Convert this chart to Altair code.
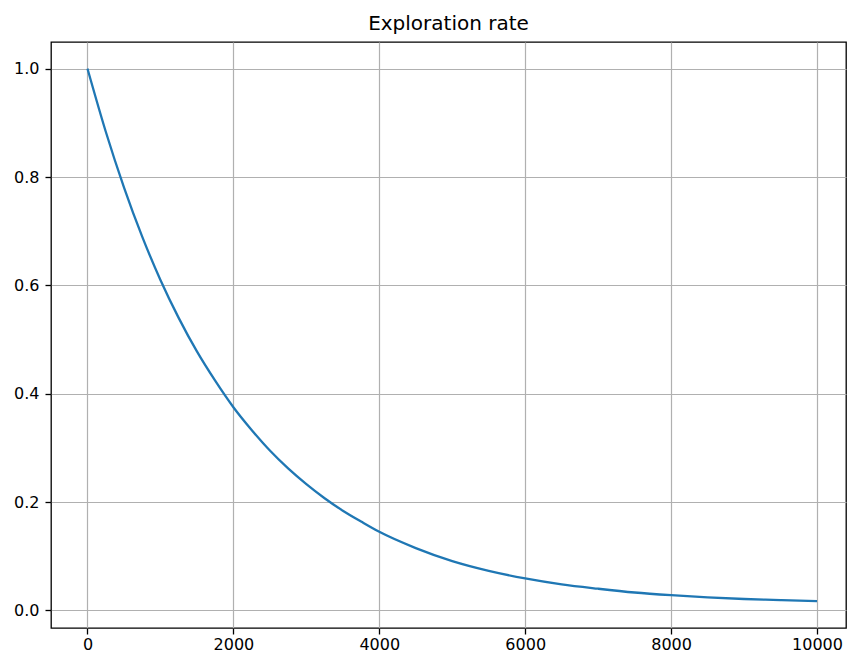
import altair as alt
import pandas as pd

steps = [0, 250, 500, 750, 1000, 1250, 1500, 1750, 2000, 2250, 2500, 2750,
         3000, 3250, 3500, 3750, 4000, 4500, 5000, 5500, 6000, 6500, 7000,
         7500, 8000, 8500, 9000, 9500, 10000]
rate = [1.0, 0.884, 0.781, 0.690, 0.610, 0.540, 0.478, 0.424, 0.375, 0.333,
        0.295, 0.262, 0.233, 0.207, 0.184, 0.164, 0.145, 0.115, 0.091, 0.073,
        0.059, 0.048, 0.040, 0.033, 0.028, 0.024, 0.021, 0.019, 0.017]
x_ticks = [0, 2000, 4000, 6000, 8000, 10000]
y_ticks = [0.0, 0.2, 0.4, 0.6, 0.8, 1.0]

df = pd.DataFrame({"step": steps, "rate": rate})

axis_common = dict(
    domain=False, tickColor="black", tickSize=6, tickWidth=1.3,
    labelColor="black", labelFont="DejaVu Sans", labelFontSize=16,
    gridColor="#b0b0b0", gridWidth=1.2, title=None,
)

chart = alt.Chart(df).mark_line(color="#1f77b4", strokeWidth=2.3, clip=True,
                                interpolate="monotone").encode(
    x=alt.X("step:Q", scale=alt.Scale(domain=[-500, 10397], nice=False, zero=False),
            axis=alt.Axis(values=x_ticks, format="d", labelPadding=2, **axis_common)),
    y=alt.Y("rate:Q", scale=alt.Scale(domain=[-0.0325, 1.0492], nice=False, zero=False),
            axis=alt.Axis(values=y_ticks, format=".1f", labelPadding=6, **axis_common)),
).properties(
    width=795, height=586,
    title=alt.TitleParams("Exploration rate", font="DejaVu Sans", fontSize=20,
                          fontWeight="normal", color="black", offset=8),
    autosize=alt.AutoSizeParams(type="none"),
    padding={"left": 43, "top": 34, "right": 1, "bottom": 24},
).configure_view(stroke="black", strokeWidth=1.3)

chart.save("out.html", embed_options={"renderer": "svg", "actions": False})
